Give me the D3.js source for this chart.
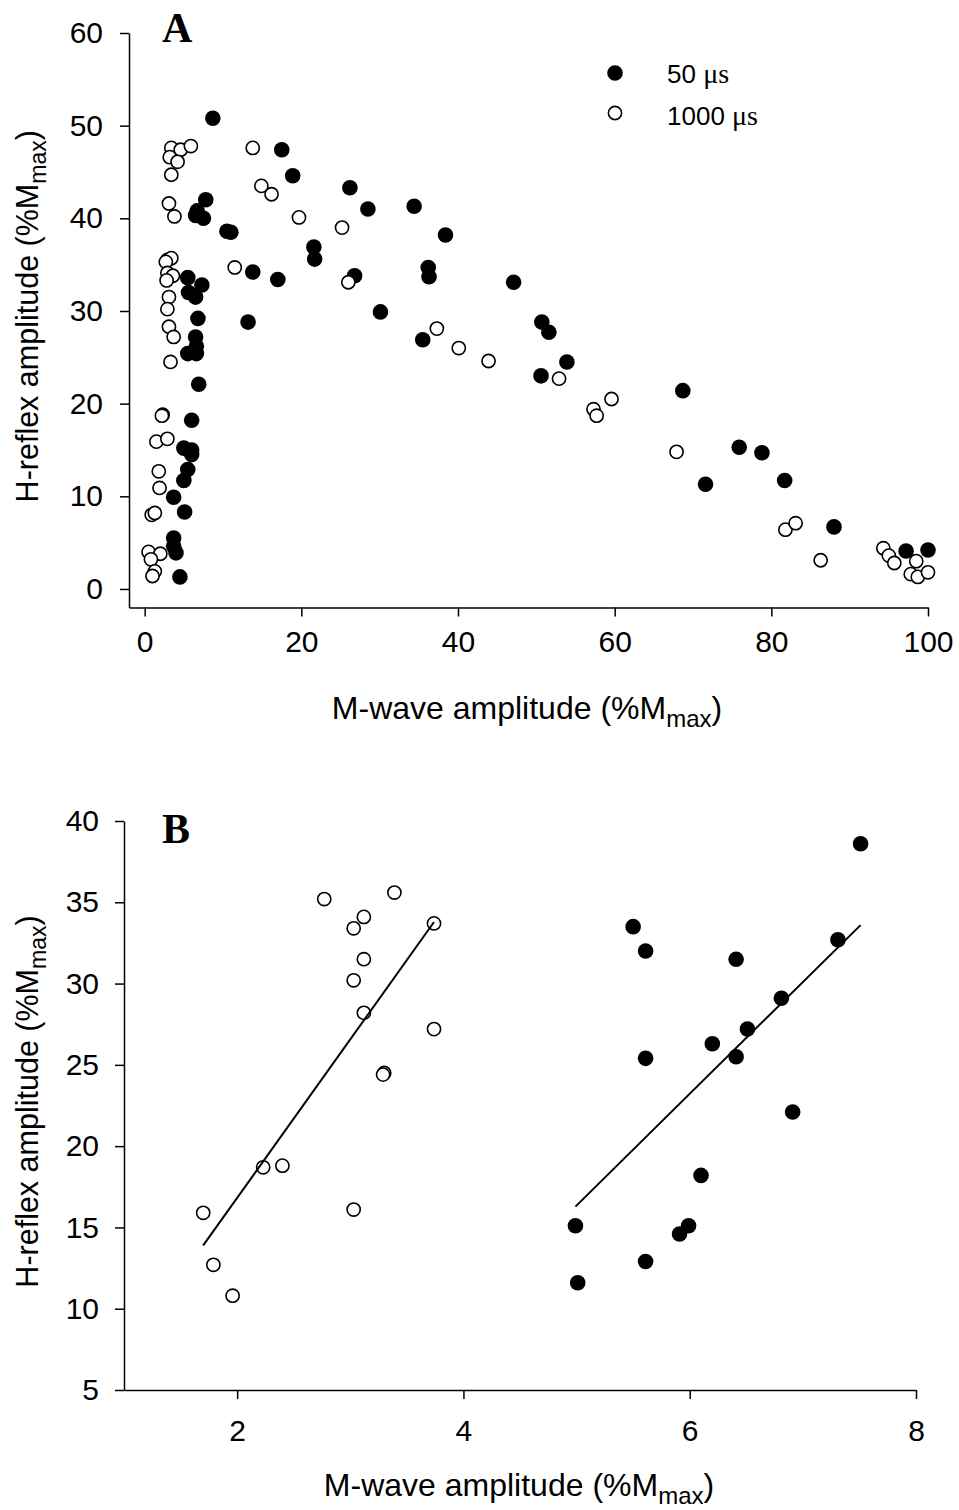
<!DOCTYPE html>
<html lang="en">
<head>
<meta charset="utf-8">
<title>H-reflex vs M-wave</title>
<script src="https://d3js.org/d3.v7.min.js"></script>
<style>
  body { margin: 0; background: #fff; }
  svg { display: block; font-family: "Liberation Sans", Arial, sans-serif; }
  .axis path, .axis line { stroke: #000; stroke-width: 1.5; }
  .axis text { font-size: 30px; fill: #000; }
  .panel { font-family: "Liberation Serif", "Times New Roman", serif; font-weight: bold; font-size: 42px; }
</style>
</head>
<body>
<script>
// Panel A: M-wave (%Mmax) and H-reflex (%Mmax), two pulse widths
const a50x = [8.7, 17.5, 18.9, 26.2, 28.5, 34.4, 38.4, 21.6, 21.7, 13.8, 17.0, 26.8, 36.2, 36.3, 47.1,
  13.2, 30.1, 50.7, 51.6, 35.5, 53.9, 50.6, 7.8, 6.7, 6.5, 7.5, 10.5, 11.0, 5.5, 7.3, 5.6, 6.5, 6.8, 6.5,
  6.6, 5.5, 6.6, 6.9, 6.0, 5.0, 6.0, 6.0, 5.5, 5.0, 3.7, 5.1, 3.7, 3.7, 4.0, 4.5,
  68.7, 75.9, 78.8, 71.6, 81.7, 88.0, 97.2, 100];
const a50y = [50.8, 47.4, 44.6, 43.3, 41.0, 41.3, 38.2, 36.9, 35.6, 34.2, 33.4, 33.8, 34.7, 33.7, 33.1,
  28.8, 29.9, 28.8, 27.7, 26.9, 24.5, 23.0, 42.0, 40.8, 40.3, 40.0, 38.6, 38.5, 33.6, 32.8, 32.0, 31.5, 29.2, 27.2,
  26.2, 25.4, 25.4, 22.1, 18.2, 15.2, 15.0, 14.5, 12.9, 11.7, 9.9, 8.3, 5.5, 4.6, 3.9, 1.3,
  21.4, 15.3, 14.7, 11.3, 11.7, 6.7, 4.1, 4.2];

const a1000x = [3.4, 4.6, 5.9, 3.2, 4.2, 3.4, 13.8, 14.9, 16.2, 19.7, 25.2, 11.5, 26.0, 37.3, 40.1, 43.9, 52.9,
  3.1, 3.8, 2.9, 3.4, 2.7, 2.9, 3.6, 2.8, 3.1, 2.9, 3.1, 3.7, 3.3, 2.3, 2.2, 1.5, 2.9, 1.8, 1.9,
  0.9, 1.3, 0.5, 2.0, 0.8, 1.3, 1.0,
  57.3, 57.7, 59.6, 67.9, 81.8, 83.1, 86.3, 94.3, 95.0, 95.7, 98.5, 97.8, 98.7, 100];
const a1000y = [47.6, 47.4, 47.8, 46.6, 46.1, 44.7, 47.6, 43.5, 42.6, 40.1, 39.0, 34.7, 33.1, 28.1, 26.0, 24.6, 22.7,
  41.6, 40.2, 35.5, 35.7, 35.3, 34.1, 33.8, 33.3, 31.5, 30.2, 28.3, 27.2, 24.5, 18.8, 18.7, 15.9, 16.2, 12.7, 10.9,
  8.0, 8.2, 4.0, 3.8, 3.2, 1.9, 1.4,
  19.4, 18.7, 20.5, 14.8, 6.4, 7.1, 3.1, 4.4, 3.6, 2.8, 3.0, 1.6, 1.3, 1.8];

// Panel B: low range only, with linear fits
const b1000x = [2.77, 3.39, 3.12, 3.03, 3.74, 3.12, 3.03, 3.12, 3.74, 3.30, 3.29, 2.23, 2.40, 1.70, 3.03, 1.79, 1.96];
const b1000y = [35.2, 35.6, 34.1, 33.4, 33.7, 31.5, 30.2, 28.2, 27.2, 24.5, 24.4, 18.7, 18.8, 15.9, 16.1, 12.7, 10.8];
const b50x = [7.51, 5.50, 5.61, 6.41, 7.31, 6.81, 6.51, 6.20, 6.41, 5.61, 6.91, 6.10, 4.99, 5.99, 5.91, 5.61, 5.01];
const b50y = [38.6, 33.5, 32.0, 31.5, 32.7, 29.1, 27.2, 26.3, 25.5, 25.4, 22.1, 18.2, 15.1, 15.1, 14.6, 12.9, 11.6];

// fitted lines: [intercept, slope]
const fit1000 = [-2.68, 9.75];
const fit50 = [-18.0, 6.87];

const legendLabels = ["50 ", "1000 "];

const aXTicks = [0, 20, 40, 60, 80, 100];
const aYTicks = [0, 10, 20, 30, 40, 50, 60];
const bXTicks = [2, 4, 6, 8];
const bYTicks = [5, 10, 15, 20, 25, 30, 35, 40];

const w = 959, h = 1510;
const rFill = 7.8, rOpen = 6.6;

const svg = d3.select("body").append("svg")
  .attr("width", w)
  .attr("height", h);

function zip(xs, ys) { return xs.map((x, i) => [x, ys[i]]); }

function drawPanel(o) {
  const x = d3.scaleLinear().domain(o.xDomain).range(o.xRange);
  const y = d3.scaleLinear().domain(o.yDomain).range(o.yRange);

  svg.append("g")
    .attr("class", "axis")
    .attr("transform", "translate(0," + o.yRange[0] + ")")
    .call(d3.axisBottom(x).tickValues(o.xTicks).tickFormat(d3.format("d"))
      .tickSize(9).tickSizeOuter(0).tickPadding(o.xPad))
    .call(g => g.selectAll("text").attr("font-family", null).attr("font-size", null));

  svg.append("g")
    .attr("class", "axis")
    .attr("transform", "translate(" + o.xRange[0] + ",0)")
    .call(d3.axisLeft(y).tickValues(o.yTicks).tickFormat(d3.format("d"))
      .tickSize(9).tickSizeOuter(0).tickPadding(o.yPad))
    .call(g => g.selectAll("text").attr("font-family", null).attr("font-size", null));

  // filled first, open on top
  svg.append("g").selectAll("circle")
    .data(zip(o.fx, o.fy))
    .join("circle")
    .attr("cx", d => x(d[0]))
    .attr("cy", d => y(d[1]))
    .attr("r", rFill)
    .attr("fill", "#000");

  svg.append("g").selectAll("circle")
    .data(zip(o.ox, o.oy))
    .join("circle")
    .attr("cx", d => x(d[0]))
    .attr("cy", d => y(d[1]))
    .attr("r", rOpen)
    .attr("fill", "#fff")
    .attr("stroke", "#000")
    .attr("stroke-width", 1.6);

  if (o.fits) {
    const line = d3.line().x(d => x(d[0])).y(d => y(d[1]));
    o.fits.forEach(f => {
      const ext = d3.extent(f.xs);
      svg.append("path")
        .attr("d", line(ext.map(v => [v, f.coef[0] + f.coef[1] * v])))
        .attr("fill", "none")
        .attr("stroke", "#000")
        .attr("stroke-width", 2);
    });
  }

  // panel letter
  svg.append("text")
    .attr("class", "panel")
    .attr("x", o.letterX)
    .attr("y", o.letterY)
    .text(o.letter);

  // x title
  const xt = svg.append("text")
    .attr("x", o.xTitleX)
    .attr("y", o.xTitleY)
    .attr("font-size", 32)
    .attr("text-anchor", "middle");
  xt.append("tspan").text("M-wave amplitude (%M");
  xt.append("tspan").attr("font-size", 24).attr("dy", 8).text("max");
  xt.append("tspan").attr("dy", -8).text(")");

  // y title
  const cy = (o.yRange[0] + o.yRange[1]) / 2;
  const yt = svg.append("text")
    .attr("font-size", 30.5)
    .attr("transform", "translate(38," + (cy - 4) + ") rotate(-90)")
    .attr("text-anchor", "middle");
  yt.append("tspan").text("H-reflex amplitude (%M");
  yt.append("tspan").attr("font-size", 23).attr("dy", 8).text("max");
  yt.append("tspan").attr("dy", -8).text(")");
}

drawPanel({
  letter: "A", letterX: 162, letterY: 42,
  xDomain: [-2, 100], xRange: [129, 928],
  yDomain: [-2, 60], yRange: [607.5, 33],
  xTicks: aXTicks, yTicks: aYTicks, xPad: 14, yPad: 17,
  fx: a50x, fy: a50y, ox: a1000x, oy: a1000y,
  xTitleX: 527, xTitleY: 719
});

drawPanel({
  letter: "B", letterX: 162, letterY: 843,
  xDomain: [1, 8], xRange: [124, 916],
  yDomain: [5, 40], yRange: [1390, 821],
  xTicks: bXTicks, yTicks: bYTicks, xPad: 21, yPad: 16,
  fx: b50x, fy: b50y, ox: b1000x, oy: b1000y,
  fits: [{ xs: b1000x, coef: fit1000 }, { xs: b50x, coef: fit50 }],
  xTitleX: 519, xTitleY: 1496
});

// legend (panel A)
const legend = svg.append("g").attr("transform", "translate(615,73)");
legendLabels.forEach((lab, i) => {
  const g = legend.append("g").attr("transform", "translate(0," + i * 40 + ")");
  g.append("circle")
    .attr("r", i === 0 ? rFill : rOpen)
    .attr("fill", i === 0 ? "#000" : "#fff")
    .attr("stroke", i === 0 ? "none" : "#000")
    .attr("stroke-width", 1.6);
  const t = g.append("text")
    .attr("x", 52)
    .attr("y", 10 + i * 2)
    .attr("font-size", 26);
  t.append("tspan").text(lab);
  t.append("tspan").attr("font-family", "Liberation Serif, serif").attr("font-size", 28).text("\u03BCs");
});
</script>
</body>
</html>
